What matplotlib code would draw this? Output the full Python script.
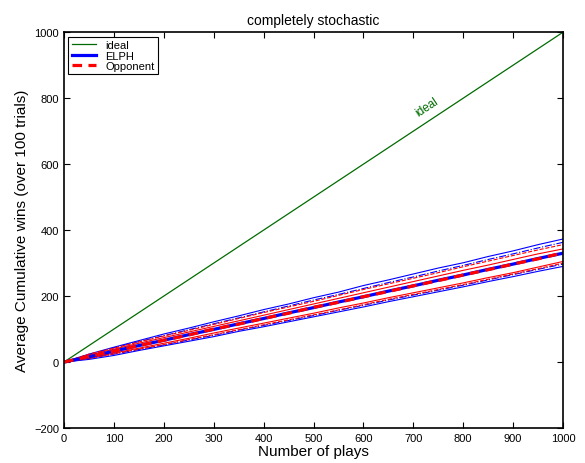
import matplotlib
matplotlib.use('Agg')
import matplotlib.pyplot as plt
import numpy as np

plt.rcParams['font.family'] = ['Liberation Sans', 'DejaVu Sans']

# data (every 50 plays)
plays = [0, 50, 100, 150, 200, 250, 300, 350, 400, 450, 500,
         550, 600, 650, 700, 750, 800, 850, 900, 950, 1000]
ideal = [0, 1000]

elph_mean = [0, 16, 33, 50, 66, 83, 99, 116, 132, 149, 165,
             182, 198, 215, 231, 248, 264, 281, 297, 314, 330]
opp_mean = [0, 17, 33, 50, 66, 82, 100, 115, 132, 148, 166,
            181, 198, 214, 231, 247, 264, 280, 297, 313, 331]

elph_hi = [0, 24, 45, 65, 85, 103, 122, 140, 159, 176, 195,
           212, 232, 249, 267, 285, 301, 320, 337, 356, 373]
elph_lo = [0, 8, 20, 35, 49, 63, 77, 93, 107, 122, 137,
           152, 167, 183, 198, 213, 228, 244, 259, 275, 290]
elph_dd_hi = [0, 22, 43, 62, 80, 98, 116, 134, 152, 170, 188,
              205, 223, 241, 258, 276, 293, 311, 328, 346, 363]
elph_dd_lo = [0, 11, 24, 38, 52, 67, 81, 97, 111, 126, 141,
              157, 172, 188, 203, 218, 233, 249, 265, 281, 297]

opp_hi = [0, 21, 39, 57, 74, 91, 108, 125, 142, 159, 176,
          193, 210, 227, 244, 261, 278, 294, 311, 328, 343]
opp_lo = [0, 12, 27, 42, 57, 72, 88, 103, 118, 133, 148,
          164, 179, 195, 210, 225, 240, 256, 271, 288, 305]
opp_dash_hi = [0, 24, 42, 61, 79, 96, 114, 132, 150, 167, 184,
               202, 220, 237, 254, 271, 289, 306, 323, 340, 356]
opp_dash_lo = [0, 11, 25, 39, 53, 68, 83, 98, 113, 128, 143,
               158, 174, 190, 205, 220, 235, 251, 267, 283, 300]

green = (0, 0.42, 0)

fig = plt.figure(figsize=(5.85, 4.64), dpi=100)
ax = fig.add_axes([0.1094, 0.0754, 0.853, 0.853])

ax.plot(ideal, ideal, color=green, lw=0.9, label='ideal')

# spread lines
ax.plot(plays, elph_hi, color='b', lw=0.8)
ax.plot(plays, elph_lo, color='b', lw=0.8)
ax.plot(plays, elph_dd_hi, color='b', lw=0.8, ls='-.')
ax.plot(plays, elph_dd_lo, color='b', lw=0.8, ls='-.')
ax.plot(plays, opp_hi, color='r', lw=0.8)
ax.plot(plays, opp_lo, color='r', lw=0.8)
ax.plot(plays, opp_dash_hi, color='r', lw=0.8, ls='--')
ax.plot(plays, opp_dash_lo, color='r', lw=0.8, ls='--')

# means
ax.plot(plays, elph_mean, color='b', lw=2.3, label='ELPH')
ax.plot(plays, opp_mean, color='r', lw=2.3, ls=(0, (3, 2)), label='Opponent')

ax.text(727, 775, 'ideal', color=green, fontsize=8.5, rotation=33.5,
        ha='center', va='center')

ax.set_xlim(0, 1000)
ax.set_ylim(-200, 1000)
ax.set_xticks(np.arange(0, 1001, 100))
ax.set_yticks(np.arange(-200, 1001, 200))
ax.tick_params(direction='in', top=True, right=True, labelsize=8,
               length=4, width=0.8)
for s in ax.spines.values():
    s.set_linewidth(1.2)

ax.set_title('completely stochastic', fontsize=10, pad=6)
ax.set_xlabel('Number of plays', fontsize=11, labelpad=1)
ax.set_ylabel('Average Cumulative wins (over 100 trials)', fontsize=11,
              labelpad=4)

leg = ax.legend(loc='upper left', fontsize=8, fancybox=False,
                edgecolor='k', framealpha=1, borderpad=0.3,
                handlelength=2.2, labelspacing=0.05, borderaxespad=0.4)
leg.get_frame().set_linewidth(0.8)

fig.savefig('out.png', dpi=100)
